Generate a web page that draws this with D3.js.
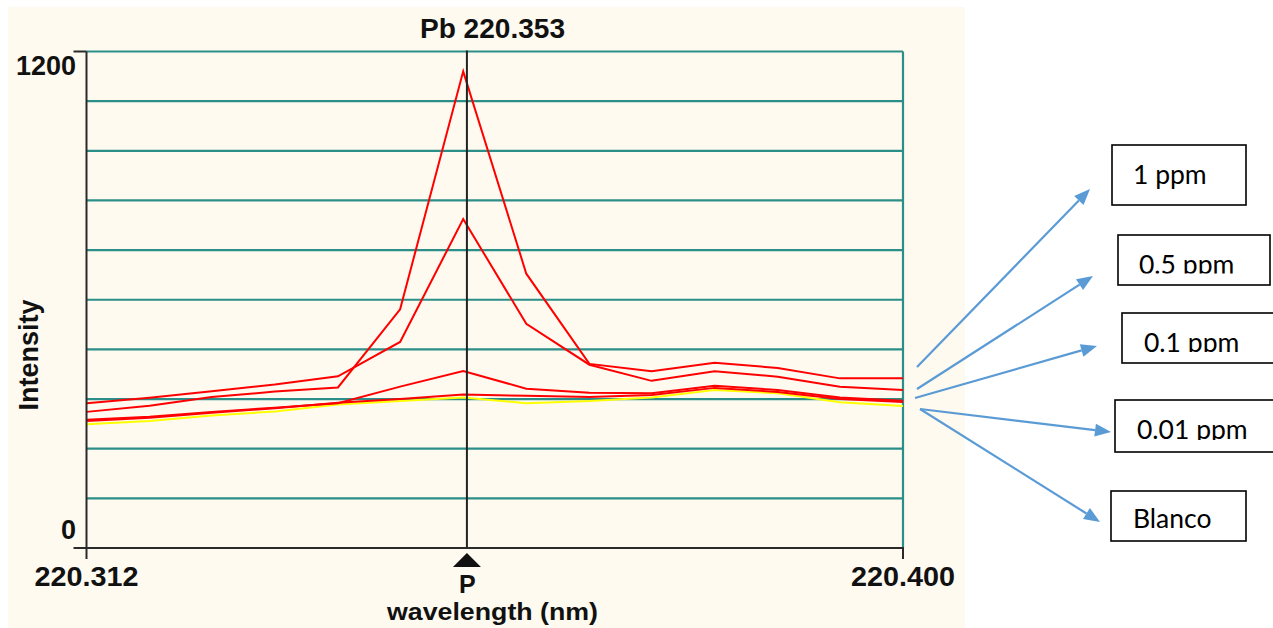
<!DOCTYPE html>
<html>
<head>
<meta charset="utf-8">
<script src="https://cdn.jsdelivr.net/npm/d3@7"></script>
<style>
  html, body { margin: 0; padding: 0; background: #ffffff; }
  svg { display: block; }
</style>
</head>
<body>
<svg id="chart" width="1273" height="628"></svg>
<script>
// Pb 220.353 nm emission line: intensity vs wavelength for the calibration standards
const wavelengths = [220.3120, 220.3188, 220.3255, 220.3323, 220.3391, 220.3458, 220.3526,
                     220.3594, 220.3662, 220.3729, 220.3797, 220.3865, 220.3932, 220.4000];

const ppm1   = [329, 344, 365, 378, 388, 577, 1152, 663, 445, 427, 448, 435, 410, 410];
const ppm05  = [350, 363, 379, 395, 415, 498,  795, 542, 443, 404, 427, 414, 390, 382];
const ppm01  = [310, 317, 329, 339, 350, 390,  428, 385, 375, 374, 392, 382, 364, 356];
const ppm001 = [307, 315, 327, 338, 351, 360,  371, 368, 365, 370, 387, 377, 360, 353];
const blanco = [299, 307, 320, 330, 347, 355,  364, 350, 355, 364, 382, 374, 352, 343];

const seriesNames  = ["Blanco", "0.01 ppm", "0.1 ppm", "0.5 ppm", "1 ppm"];
const seriesValues = [blanco, ppm001, ppm01, ppm05, ppm1];
const seriesColors = ["#ffff00", "#ff0000", "#ff0000", "#ff0000", "#ff0000"];

const yGridValues = [0, 120, 240, 360, 480, 600, 720, 840, 960, 1080, 1200];
const yTickLabels = [{ v: 1200, t: "1200" }, { v: 0, t: "0" }];
const xDomain = [220.312, 220.400];
const xTickLabels = ["220.312", "220.400"];
const peakWavelength = 220.353;
const titleText = "Pb 220.353";
const xTitle = "wavelength (nm)";
const yTitle = "Intensity";

// Legend callouts, top to bottom
const legendLabels = ["1 ppm", "0.5 ppm", "0.1 ppm", "0.01 ppm", "Blanco"];

const svg = d3.select("#chart");
const bold = "'Liberation Sans', Arial, sans-serif";

const x = d3.scaleLinear().domain(xDomain).range([86.5, 903]);
const y = d3.scaleLinear().domain([0, 1200]).range([548, 51.5]);

// instrument panel background
svg.append("rect").attr("x", 8).attr("y", 7).attr("width", 957).attr("height", 621)
  .attr("fill", "#fefaef");

// title
svg.append("text").attr("x", 492.5).attr("y", 38).attr("text-anchor", "middle")
  .attr("font-family", bold).attr("font-weight", "bold").attr("font-size", 27)
  .attr("textLength", 145).attr("lengthAdjust", "spacingAndGlyphs")
  .attr("fill", "#111").text(titleText);

// horizontal grid
svg.append("g").selectAll("line").data(yGridValues.filter(v => v > 0)).join("line")
  .attr("x1", x(xDomain[0])).attr("x2", x(xDomain[1]))
  .attr("y1", d => y(d)).attr("y2", d => y(d))
  .attr("stroke", "#2b8e89").attr("stroke-width", 2.2);

// right border
svg.append("line").attr("x1", x(xDomain[1])).attr("x2", x(xDomain[1]))
  .attr("y1", y(1200)).attr("y2", y(0))
  .attr("stroke", "#2b8e89").attr("stroke-width", 2.2);

// spectra
const line = d3.line().x((d, i) => x(wavelengths[i])).y(d => y(d));
svg.append("g").selectAll("path").data(seriesValues).join("path")
  .attr("d", d => line(d))
  .attr("fill", "none")
  .attr("stroke", (d, i) => seriesColors[i])
  .attr("stroke-width", 2)
  .attr("stroke-linejoin", "miter");

// peak marker line
svg.append("line").attr("x1", x(peakWavelength)).attr("x2", x(peakWavelength))
  .attr("y1", y(1200) - 1).attr("y2", y(0))
  .attr("stroke", "#222").attr("stroke-width", 2);

// axes
const axisColor = "#2a2a2a";
svg.append("line").attr("x1", x(xDomain[0])).attr("x2", x(xDomain[0]))
  .attr("y1", y(1200)).attr("y2", y(0) + 11)
  .attr("stroke", axisColor).attr("stroke-width", 2);
svg.append("line").attr("x1", x(xDomain[0]) - 13).attr("x2", x(xDomain[1]) + 1)
  .attr("y1", y(0)).attr("y2", y(0))
  .attr("stroke", axisColor).attr("stroke-width", 2);
svg.append("line").attr("x1", x(xDomain[0]) - 13).attr("x2", x(xDomain[0]))
  .attr("y1", y(1200)).attr("y2", y(1200))
  .attr("stroke", axisColor).attr("stroke-width", 2);
svg.append("line").attr("x1", x(xDomain[1])).attr("x2", x(xDomain[1]))
  .attr("y1", y(0)).attr("y2", y(0) + 11)
  .attr("stroke", axisColor).attr("stroke-width", 2);

// y tick labels
svg.append("g").selectAll("text").data(yTickLabels).join("text")
  .attr("x", 76)
  .attr("y", d => d.v === 0 ? y(d.v) - 9 : y(d.v) + 23.5)
  .attr("text-anchor", "end")
  .attr("font-family", bold).attr("font-weight", "bold").attr("font-size", 27)
  .attr("fill", "#111").text(d => d.t);

// x tick labels
svg.append("g").selectAll("text").data(xTickLabels).join("text")
  .attr("x", d => x(+d))
  .attr("y", 586)
  .attr("text-anchor", "middle")
  .attr("font-family", bold).attr("font-weight", "bold").attr("font-size", 27)
  .attr("textLength", 104).attr("lengthAdjust", "spacingAndGlyphs")
  .attr("fill", "#111").text(d => d);

// peak position marker
const px = x(peakWavelength);
svg.append("path")
  .attr("d", `M${px - 14},567 L${px + 14},567 L${px},553 Z`)
  .attr("fill", "#111");
svg.append("text").attr("x", px + 0.5).attr("y", 593).attr("text-anchor", "middle")
  .attr("font-family", bold).attr("font-weight", "bold").attr("font-size", 25)
  .attr("fill", "#111").text("P");

// axis titles
svg.append("text").attr("x", 492.5).attr("y", 620).attr("text-anchor", "middle")
  .attr("font-family", bold).attr("font-weight", "bold").attr("font-size", 23)
  .attr("textLength", 211).attr("lengthAdjust", "spacingAndGlyphs")
  .attr("fill", "#111").text(xTitle);
svg.append("text").attr("transform", "translate(38,355) rotate(-90)")
  .attr("text-anchor", "middle")
  .attr("font-family", bold).attr("font-weight", "bold").attr("font-size", 27)
  .attr("fill", "#111").text(yTitle);

// legend callouts: box, label and arrow from the curve bundle
const boxes = [
  { x: 1112, y: 145, w: 134, h: 60, tx: 1133, ty: 184, clip: null },
  { x: 1118, y: 235, w: 152, h: 50, tx: 1139, ty: 274, clip: 273.5 },
  { x: 1122, y: 313, w: 160, h: 50, tx: 1144, ty: 352, clip: 352 },
  { x: 1115, y: 400, w: 165, h: 52, tx: 1137, ty: 439, clip: 440 },
  { x: 1111, y: 491, w: 135, h: 50, tx: 1133, ty: 528, clip: null }
];
const arrows = [
  { x1: 917, y1: 367, x2: 1090, y2: 189 },
  { x1: 917, y1: 389, x2: 1093, y2: 276 },
  { x1: 915, y1: 398, x2: 1097, y2: 346 },
  { x1: 920, y1: 409, x2: 1111, y2: 432 },
  { x1: 920, y1: 409, x2: 1100, y2: 522 }
];

const defs = svg.append("defs");
const legend = svg.append("g");
legendLabels.forEach((label, i) => {
  const b = boxes[i];
  legend.append("rect").attr("x", b.x).attr("y", b.y).attr("width", b.w).attr("height", b.h)
    .attr("fill", "#ffffff").attr("stroke", "#000").attr("stroke-width", 1.6);
  const t = legend.append("text").attr("x", b.tx).attr("y", b.ty)
    .attr("font-family", "Lato, 'Open Sans', sans-serif").attr("font-size", 26.5)
    .attr("fill", "#000").text(label);
  if (b.clip !== null) {
    const id = "clip" + i;
    defs.append("clipPath").attr("id", id).append("rect")
      .attr("x", b.x).attr("y", b.y).attr("width", b.w).attr("height", b.clip - b.y);
    t.attr("clip-path", `url(#${id})`);
  }
});

const arrowColor = "#5b9bd5";
arrows.forEach(a => {
  const dx = a.x2 - a.x1, dy = a.y2 - a.y1;
  const len = Math.hypot(dx, dy);
  const ux = dx / len, uy = dy / len;
  const hl = 16, hw = 6.5;
  const bx = a.x2 - ux * hl, by = a.y2 - uy * hl;
  legend.append("line").attr("x1", a.x1).attr("y1", a.y1).attr("x2", bx).attr("y2", by)
    .attr("stroke", arrowColor).attr("stroke-width", 2.2);
  legend.append("path")
    .attr("d", `M${a.x2},${a.y2} L${bx - uy * hw},${by + ux * hw} L${bx + uy * hw},${by - ux * hw} Z`)
    .attr("fill", arrowColor);
});
</script>
</body>
</html>
